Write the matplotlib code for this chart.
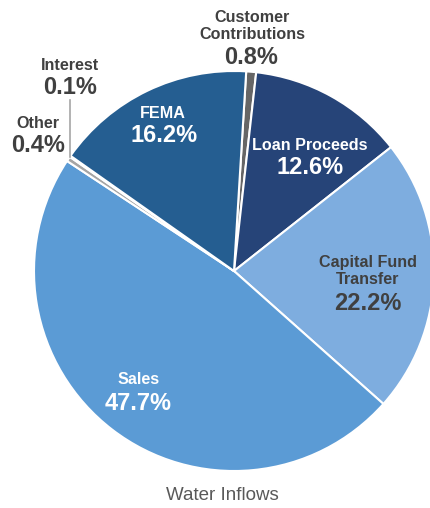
import matplotlib
matplotlib.use("Agg")
import matplotlib.pyplot as plt

# --- data ---
labels = ["Customer\nContributions", "Loan Proceeds", "Capital Fund\nTransfer",
          "Sales", "Other", "Interest", "FEMA"]
shares = [0.8, 12.6, 22.2, 47.7, 0.4, 0.1, 16.2]
title = "Water Inflows"

colors = ["#666666", "#264478", "#7eaddf", "#5b9bd5", "#a5a5a5", "#c8c8c8", "#255e91"]
text_colors = ["#404040", "white", "#404040", "white", "#404040", "#404040", "white"]
# label anchors in pixel coordinates of the 430x508 image (name centre, pct centre)
name_xy = [(252, 26), (310, 145), (368, 271), (139, 380), (38, 123), (70, 65), (163, 114)]
pct_xy = [(251, 58), (310, 168), (368, 303), (138, 404), (38, 146), (70, 88), (164, 136)]

W, H = 430, 508
cx, cy, R = 234, 271, 200

plt.rcParams["font.family"] = ["Liberation Sans", "DejaVu Sans"]

fig = plt.figure(figsize=(W / 100, H / 100), dpi=100)
ax = fig.add_axes([0, 0, 1, 1])

wedges, _ = ax.pie(shares, colors=colors, startangle=86.5, counterclock=False,
                   center=(cx, H - cy), radius=R,
                   wedgeprops=dict(edgecolor="white", linewidth=1.5))

ax.set_xlim(0, W)
ax.set_ylim(0, H)
ax.set_aspect("equal")
ax.axis("off")

for lab, val, (nx, ny), (px, py), tc in zip(labels, shares, name_xy, pct_xy, text_colors):
    ax.text(nx, H - ny, lab, ha="center", va="center", fontsize=11.6,
            fontweight="bold", color=tc, linespacing=1.15)
    ax.text(px, H - py, f"{val:.1f}%", ha="center", va="center", fontsize=17,
            fontweight="bold", color=tc)

# leader line for Interest
ax.plot([70, 70], [H - 100, H - 157], color="#a5a5a5", lw=1.2)

ax.text(222, H - 496, title, ha="center", va="center", fontsize=13.5, color="#595959")

fig.savefig("out.png", dpi=100)
